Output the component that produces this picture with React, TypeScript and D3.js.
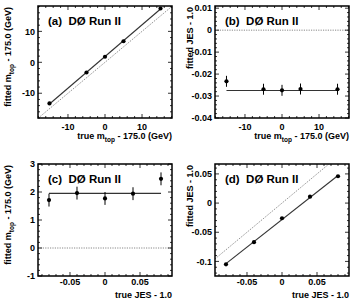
import React from "react";
import * as d3 from "d3";

// ---- data ----
const mtopTrue = [-15, -5, 0, 5, 15];
const jesTrue = [-0.08, -0.04, 0, 0.04, 0.08];

const mtopFitA = [-13.3, -3.3, 1.8, 6.8, 17.4];
const mtopFitAErr = [0.3, 0.3, 0.3, 0.3, 0.3];
const fitLineA = [1.023, 1.88]; // slope, intercept

const jesFitB = [-0.0233, -0.0269, -0.0274, -0.0268, -0.0269];
const jesFitBErr = [0.0025, 0.0025, 0.0025, 0.0025, 0.0025];
const fitLineB = [0, -0.0275];

const mtopFitC = [1.71, 1.96, 1.77, 1.94, 2.47];
const mtopFitCErr = [0.23, 0.23, 0.23, 0.23, 0.23];
const fitLineC = [0, 1.95];

const jesFitD = [-0.105, -0.067, -0.026, 0.011, 0.046];
const jesFitDErr = [0.001, 0.001, 0.001, 0.001, 0.001];
const fitLineD = [0.944, -0.0282];

const ticksMtop = [-10, 0, 10];
const ticksJesX = [-0.05, 0, 0.05];
const ticksA_Y = [-10, 0, 10];
const ticksB_Y = [-0.04, -0.03, -0.02, -0.01, 0, 0.01];
const ticksC_Y = [-1, 0, 1, 2, 3];
const ticksD_Y = [-0.1, -0.05, 0, 0.05];

const FONT = "'Liberation Sans', Arial, Helvetica, sans-serif";

type PanelCfg = {
  label: string;
  x0: number; x1: number; y0: number; y1: number;
  xDom: [number, number]; yDom: [number, number];
  xs: number[]; ys: number[]; errs: number[];
  fit: number[];
  ref: "diag" | "zero";
  xTicks: number[]; xMinor: number;
  yTicks: number[]; yMinor: number;
  xFmt: (v: number) => string; yFmt: (v: number) => string;
  xTitle: "mtop" | "jes"; yTitle: "mtop" | "jes";
  bottom: boolean;
  yTitleOff: number;
};

const fmtInt = (v: number) => d3.format("d")(v).replace("−", "-");
const fmtJes = (v: number) => (v === 0 ? "0" : String(v));

const MtopTitle = ({ prefix }: { prefix: string }) => (
  <>
    {prefix} m<tspan fontSize={6.5} dy={2.5}>top</tspan>
    <tspan dy={-2.5}> - 175.0 (GeV)</tspan>
  </>
);

function Panel({ c }: { c: PanelCfg }) {
  const x = d3.scaleLinear().domain(c.xDom).range([c.x0, c.x1]);
  const y = d3.scaleLinear().domain(c.yDom).range([c.y1, c.y0]);
  const clipId = "clip-" + c.label.replace(/[()]/g, "");
  const majLen = 4;
  const minLen = 2;
  const xMinorTicks = d3.range(Math.ceil(c.xDom[0] / c.xMinor), Math.floor(c.xDom[1] / c.xMinor) + 1).map(i => i * c.xMinor);
  const yMinorTicks = d3.range(Math.ceil(c.yDom[0] / c.yMinor), Math.floor(c.yDom[1] / c.yMinor) + 1).map(i => i * c.yMinor);
  const isMajor = (v: number, arr: number[]) => arr.some(t => Math.abs(t - v) < 1e-9);

  const fitX = [c.xs[0], c.xs[c.xs.length - 1]];
  const fitLine = d3.line<number>().x(v => x(v)).y(v => y(c.fit[0] * v + c.fit[1]));
  const refPts: [number, number][] =
    c.ref === "diag"
      ? [[c.xDom[0], c.xDom[0]], [c.xDom[1], c.xDom[1]]]
      : [[c.xDom[0], 0], [c.xDom[1], 0]];
  const refLine = d3.line<[number, number]>().x(p => x(p[0])).y(p => y(p[1]));

  const xTickBase = c.bottom ? c.y1 + 8.5 : c.y1 + 12;
  const xTitleBase = c.bottom ? c.y1 + 21.5 : c.y1 + 21;

  return (
    <g>
      <defs>
        <clipPath id={clipId}>
          <rect x={c.x0} y={c.y0} width={c.x1 - c.x0} height={c.y1 - c.y0} />
        </clipPath>
      </defs>
      {/* reference line */}
      <path d={refLine(refPts) || ""} stroke="#888" strokeWidth={1} strokeDasharray="1.2,1.2" fill="none" clipPath={`url(#${clipId})`} />
      {/* fit line */}
      <path d={fitLine(fitX) || ""} stroke="#333" strokeWidth={1.1} fill="none" />
      {/* error bars + points */}
      {c.xs.map((xv, i) => (
        <g key={i}>
          <line x1={x(xv)} x2={x(xv)} y1={y(c.ys[i] - c.errs[i])} y2={y(c.ys[i] + c.errs[i])} stroke="#000" strokeWidth={1} />
          <circle cx={x(xv)} cy={y(c.ys[i])} r={2.1} fill="#000" />
        </g>
      ))}
      {/* ticks */}
      {xMinorTicks.map((v, i) => {
        const L = isMajor(v, c.xTicks) ? majLen : minLen;
        return (
          <g key={"xt" + i} stroke="#000" strokeWidth={0.8}>
            <line x1={x(v)} x2={x(v)} y1={c.y1} y2={c.y1 - L} />
            <line x1={x(v)} x2={x(v)} y1={c.y0} y2={c.y0 + L} />
          </g>
        );
      })}
      {yMinorTicks.map((v, i) => {
        const L = isMajor(v, c.yTicks) ? majLen : minLen;
        return (
          <g key={"yt" + i} stroke="#000" strokeWidth={0.8}>
            <line x1={c.x0} x2={c.x0 + L} y1={y(v)} y2={y(v)} />
            <line x1={c.x1} x2={c.x1 - L} y1={y(v)} y2={y(v)} />
          </g>
        );
      })}
      {/* frame */}
      <rect x={c.x0} y={c.y0} width={c.x1 - c.x0} height={c.y1 - c.y0} fill="none" stroke="#000" strokeWidth={1.5} />
      {/* tick labels */}
      {c.xTicks.map((v, i) => (
        <text key={"xl" + i} x={x(v)} y={xTickBase} textAnchor="middle" fontSize={9} fontWeight="bold" fontFamily={FONT}>
          {c.xFmt(v)}
        </text>
      ))}
      {c.yTicks.map((v, i) => (
        <text key={"yl" + i} x={c.x0 - 3} y={y(v) + 3.2} textAnchor="end" fontSize={9} fontWeight="bold" fontFamily={FONT}>
          {c.yFmt(v)}
        </text>
      ))}
      {/* axis titles */}
      <text x={c.x1} y={xTitleBase} textAnchor="end" fontSize={9} fontWeight="bold" fontFamily={FONT}>
        {c.xTitle === "mtop" ? <MtopTitle prefix="true" /> : "true JES - 1.0"}
      </text>
      <text
        transform={`translate(${c.x0 - c.yTitleOff},${c.y0 + 1}) rotate(-90)`}
        textAnchor="end"
        fontSize={9}
        fontWeight="bold"
        fontFamily={FONT}
      >
        {c.yTitle === "mtop" ? <MtopTitle prefix="fitted" /> : "fitted JES - 1.0"}
      </text>
      {/* panel label */}
      <text x={c.x0 + 10} y={c.y0 + 19} fontSize={11.5} fontWeight="bold" fontFamily={FONT} xmlSpace="preserve">
        {c.label + "  DØ Run II"}
      </text>
    </g>
  );
}

export default function App() {
  const L0 = 38, L1 = 172, R0 = 215, R1 = 349;
  const T0 = 6, T1 = 118, B0 = 164, B1 = 276;
  const panels: PanelCfg[] = [
    {
      label: "(a)", x0: L0, x1: L1, y0: T0, y1: T1,
      xDom: [-18.1, 18.1], yDom: [-18, 18.2],
      xs: mtopTrue, ys: mtopFitA, errs: mtopFitAErr, fit: fitLineA, ref: "diag",
      xTicks: ticksMtop, xMinor: 2, yTicks: ticksA_Y, yMinor: 2,
      xFmt: fmtInt, yFmt: fmtInt, xTitle: "mtop", yTitle: "mtop", bottom: false, yTitleOff: 27,
    },
    {
      label: "(b)", x0: R0, x1: R1, y0: T0, y1: T1,
      xDom: [-18.1, 18.1], yDom: [-0.04, 0.011],
      xs: mtopTrue, ys: jesFitB, errs: jesFitBErr, fit: fitLineB, ref: "zero",
      xTicks: ticksMtop, xMinor: 2, yTicks: ticksB_Y, yMinor: 0.002,
      xFmt: fmtInt, yFmt: fmtJes, xTitle: "mtop", yTitle: "jes", bottom: false, yTitleOff: 22.5,
    },
    {
      label: "(c)", x0: L0, x1: L1, y0: B0, y1: B1,
      xDom: [-0.0957, 0.0957], yDom: [-1, 3],
      xs: jesTrue, ys: mtopFitC, errs: mtopFitCErr, fit: fitLineC, ref: "zero",
      xTicks: ticksJesX, xMinor: 0.01, yTicks: ticksC_Y, yMinor: 0.2,
      xFmt: fmtJes, yFmt: fmtInt, xTitle: "jes", yTitle: "mtop", bottom: true, yTitleOff: 27,
    },
    {
      label: "(d)", x0: R0, x1: R1, y0: B0, y1: B1,
      xDom: [-0.0957, 0.0957], yDom: [-0.125, 0.067],
      xs: jesTrue, ys: jesFitD, errs: jesFitDErr, fit: fitLineD, ref: "diag",
      xTicks: ticksJesX, xMinor: 0.01, yTicks: ticksD_Y, yMinor: 0.01,
      xFmt: fmtJes, yFmt: fmtJes, xTitle: "jes", yTitle: "jes", bottom: true, yTitleOff: 22.5,
    },
  ];
  return (
    <svg width={357} height={301} style={{ position: "absolute", left: 0, top: 0, background: "#fff" }}>
      <rect width={357} height={301} fill="#fff" />
      {panels.map((p, i) => (
        <Panel key={i} c={p} />
      ))}
    </svg>
  );
}
